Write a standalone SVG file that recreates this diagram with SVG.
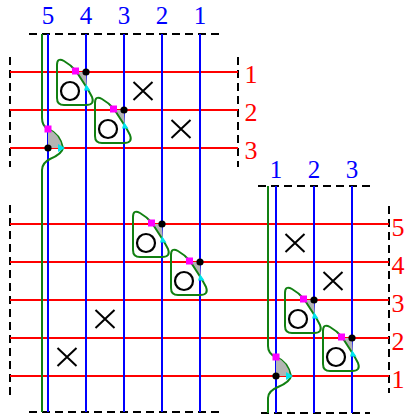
<svg xmlns="http://www.w3.org/2000/svg" width="406" height="417" viewBox="0 0 406 417">
<style>
.red{stroke:#ff0000;stroke-width:2;fill:none}
.blue{stroke:#0000ff;stroke-width:2;fill:none}
.green{stroke:#118011;stroke-width:2;fill:none}
.dash{stroke:#000;stroke-width:2;stroke-dasharray:8,5;fill:none}
.cross{stroke:#000;stroke-width:2;fill:none}
.ring{stroke:#000;stroke-width:2.2;fill:none}
.gray{fill:#b4b4b4;stroke:none}
.pink{fill:#ff00ff}
.cyan{fill:#00e5ee}
.dot{fill:#000}
.lb{font-family:"Liberation Serif","Times New Roman",serif;font-size:25px;fill:#0000ff;text-anchor:middle}
.lr{font-family:"Liberation Serif","Times New Roman",serif;font-size:26px;fill:#ff0000;text-anchor:middle}
</style>
<defs>
<g id="loop">
<path class="gray" d="M-10,0 L0,0 L1,16 Z"/>
<path class="green" d="M-10,-1 L1,16 Q4,21 6,25 Q9,33 0,33 L-22,33 Q-29,33 -29,26 L-29,-7 Q-29,-15 -22,-11 Q-15,-7 -10,-1 Z"/>
<circle class="ring" cx="-16" cy="19" r="9"/>
<rect class="pink" x="-14" y="-4.5" width="7" height="7"/>
<circle class="dot" cx="0" cy="0" r="3.6"/>
<polygon class="cyan" points="0,12 4.5,18.5 -2,18.5"/>
</g>
<g id="kink">
<path class="gray" d="M0,-19 Q12,-14 14,0 L0,0 Z"/>
<rect class="pink" x="-3.5" y="-22.5" width="7" height="7"/>
<circle class="dot" cx="0" cy="0" r="3.6"/>
<polygon class="cyan" points="10,-4 17,0 10,4"/>
</g>
<g id="x">
<path class="cross" d="M-9.5,-9 L9.5,9 M-9.5,9 L9.5,-9"/>
</g>
</defs>

<g id="frames">
<path class="dash" d="M29,34 H219 M29,412 H219 M258,186 H371 M261,413 H370"/>
<path class="dash" d="M10,57 V167 M238,57 V167 M10,205 V395 M389,206 V393"/>
</g>

<g id="connectors">
<g id="red-lines">
<path class="red" d="M10,72 H238 M10,110 H238 M10,148 H238"/>
<path class="red" d="M10,224 H389 M10,262 H389 M10,300 H389 M10,338 H389 M10,376 H389"/>
</g>
<g id="blue-lines">
<path class="blue" d="M48,34 V412 M86,34 V412 M124,34 V412 M162,34 V412 M200,34 V412"/>
<path class="blue" d="M276,186 V413 M314,186 V413 M352,186 V413"/>
</g>
<g id="green-strands">
<path class="green" d="M42,34 L42,118 Q42,126 48,129 Q60,134 63,148 Q62,154 50,159 Q42,163 42,170 L42,412"/>
<path class="green" d="M268,186 L268,346 Q268,354 276,357 Q288,362 291,376 Q290,382 278,387 Q268,391 268,398 L268,413"/>
</g>
</g>

<g id="node-kink-1"><use href="#kink" x="48" y="148"/></g>
<g id="node-kink-2"><use href="#kink" x="276" y="376"/></g>
<g id="node-loop-1"><use href="#loop" x="86" y="72"/></g>
<g id="node-loop-2"><use href="#loop" x="124" y="110"/></g>
<g id="node-loop-3"><use href="#loop" x="162" y="224"/></g>
<g id="node-loop-4"><use href="#loop" x="200" y="262"/></g>
<g id="node-loop-5"><use href="#loop" x="314" y="300"/></g>
<g id="node-loop-6"><use href="#loop" x="352" y="338"/></g>
<g id="crosses">
<use href="#x" x="143" y="91"/>
<use href="#x" x="181" y="129"/>
<use href="#x" x="105" y="319"/>
<use href="#x" x="67" y="357"/>
<use href="#x" x="295" y="243"/>
<use href="#x" x="333" y="281"/>
</g>

<g id="labels-blue">
<text class="lb" x="48" y="24">5</text>
<text class="lb" x="86" y="24">4</text>
<text class="lb" x="124" y="24">3</text>
<text class="lb" x="162" y="24">2</text>
<text class="lb" x="200" y="24">1</text>
<text class="lb" x="276" y="178">1</text>
<text class="lb" x="314" y="178">2</text>
<text class="lb" x="352" y="178">3</text>
</g>
<g id="labels-red">
<text class="lr" x="251" y="83">1</text>
<text class="lr" x="251" y="121">2</text>
<text class="lr" x="251" y="159">3</text>
<text class="lr" x="398" y="236">5</text>
<text class="lr" x="398" y="274">4</text>
<text class="lr" x="398" y="312">3</text>
<text class="lr" x="398" y="350">2</text>
<text class="lr" x="398" y="388">1</text>
</g>
</svg>
